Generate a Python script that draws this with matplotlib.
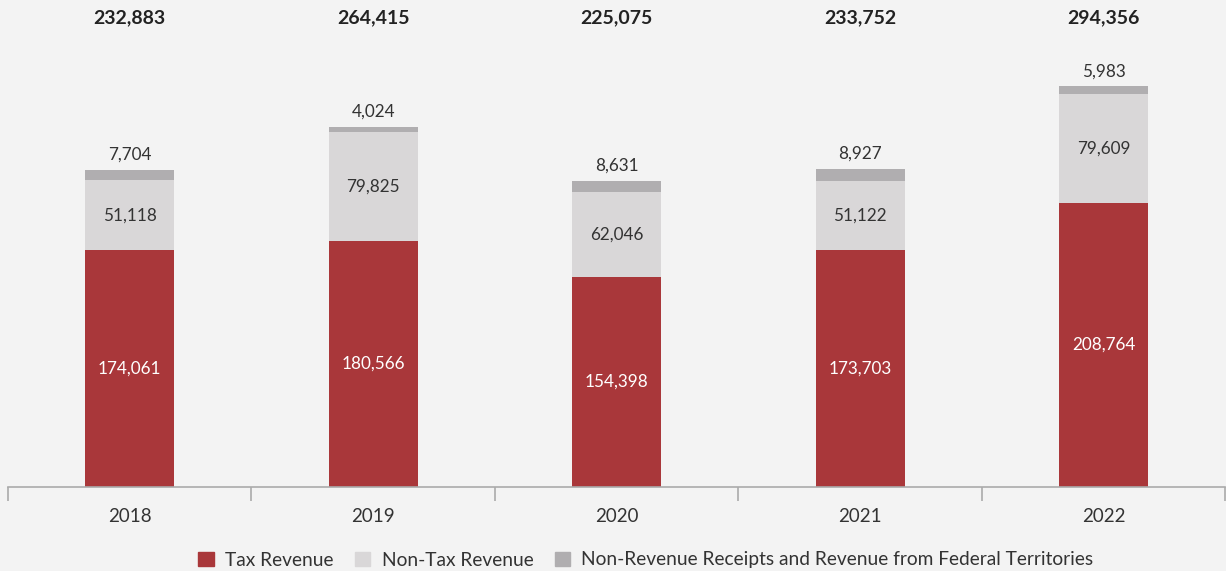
import matplotlib.pyplot as plt
import matplotlib.patches as mpatches
import matplotlib.transforms as mtransforms
import numpy as np

years = ["2018", "2019", "2020", "2021", "2022"]
tax_revenue = [174061, 180566, 154398, 173703, 208764]
non_tax_revenue = [51118, 79825, 62046, 51122, 79609]
non_revenue_receipts = [7704, 4024, 8631, 8927, 5983]
totals = [232883, 264415, 225075, 233752, 294356]

RED = "#a9373a"
LIGHT = "#d9d7d8"
DARK = "#b0aeb0"
BG = "#f3f3f3"
TEXT = "#333333"

plt.rcParams["font.family"] = ["Lato", "DejaVu Sans"]

fig = plt.figure(figsize=(12.26, 5.71), dpi=100, facecolor=BG)
ax = fig.add_axes([0.0065, 1 - 487 / 571, 0.993, 487 / 571])
ax.set_facecolor(BG)

x = np.arange(len(years))
w = 0.365
tax = np.array(tax_revenue)
ntax = np.array(non_tax_revenue)
nrev = np.array(non_revenue_receipts)

ax.bar(x, tax, w, color=RED, label="Tax Revenue")
ax.bar(x, ntax, w, bottom=tax, color=LIGHT, label="Non-Tax Revenue")
ax.bar(x, nrev, w, bottom=tax + ntax, color=DARK,
       label="Non-Revenue Receipts and Revenue from Federal Territories")

# ── value labels ─────────────────────────────────────────────────────────
for i in range(len(years)):
    ax.text(x[i], tax[i] / 2, f"{tax[i]:,}", ha="center", va="center",
            color="white", fontsize=12.3)
    ax.text(x[i], tax[i] + ntax[i] / 2, f"{ntax[i]:,}", ha="center",
            va="center", color=TEXT, fontsize=12.3)
    ax.annotate(f"{nrev[i]:,}", (x[i], tax[i] + ntax[i] + nrev[i]),
                xytext=(0, 5), textcoords="offset points", ha="center",
                va="bottom", color=TEXT, fontsize=12.3)

# totals row along the top
trans = mtransforms.blended_transform_factory(ax.transData, ax.transAxes)
for i, t in enumerate(totals):
    ax.text(x[i], 1 - 18 / 487, f"{t:,}", transform=trans, ha="center",
            va="center", fontsize=14, fontweight="bold", color="#222222")

ax.set_xlim(-0.5, len(years) - 0.5)
ax.set_ylim(0, 487 * 734.4)

for side in ["top", "right", "left"]:
    ax.spines[side].set_visible(False)
ax.spines["bottom"].set_color("#aaaaaa")
ax.spines["bottom"].set_linewidth(1.2)
ax.set_yticks([])

ax.set_xticks(x)
ax.set_xticklabels(years, fontsize=13.5, color=TEXT)
ax.tick_params(axis="x", which="major", length=0, pad=15)
ax.set_xticks(np.arange(-0.5, len(years)), minor=True)
ax.tick_params(axis="x", which="minor", length=10, width=1.2, color="#aaaaaa")

handles = [
    mpatches.Patch(color=RED, label="Tax Revenue"),
    mpatches.Patch(color=LIGHT, label="Non-Tax Revenue"),
    mpatches.Patch(color=DARK, label="Non-Revenue Receipts and Revenue from Federal Territories"),
]
leg = fig.legend(handles=handles, loc="center", bbox_to_anchor=(646 / 1226, 1 - 560 / 571),
                 ncol=3, frameon=False, fontsize=13.8, handlelength=0.8,
                 handleheight=0.8, handletextpad=0.6, columnspacing=1.1)
for t in leg.get_texts():
    t.set_color(TEXT)

fig.savefig("out.png", dpi=100, facecolor=BG)
